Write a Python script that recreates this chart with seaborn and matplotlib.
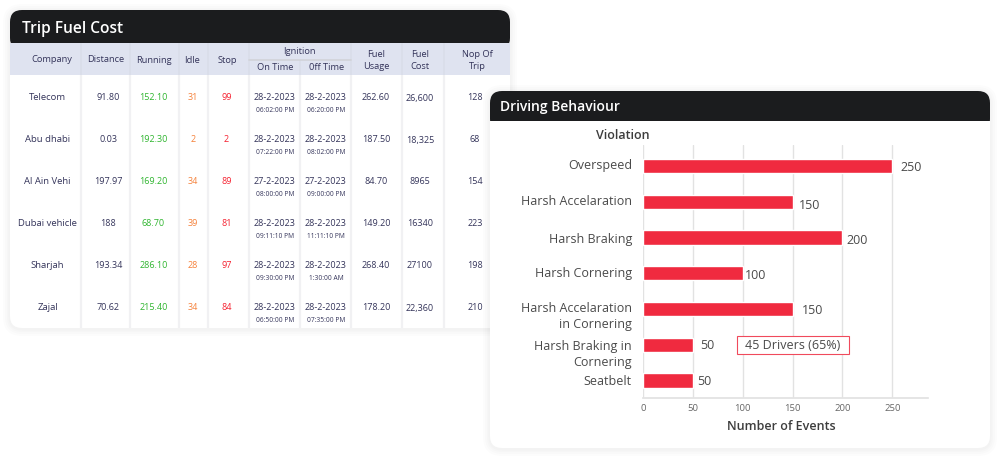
import matplotlib
matplotlib.use('Agg')
import matplotlib.pyplot as plt
import matplotlib.patches as mpatches
import matplotlib.transforms as mtrans
import seaborn as sns
import pandas as pd

# Table data
companies = ['Telecom', 'Abu dhabi', 'Al Ain Vehi', 'Dubai vehicle', 'Sharjah', 'Zajal']
distance = ['91.80', '0.03', '197.97', '188', '193.34', '70.62']
running = ['152.10', '192.30', '169.20', '68.70', '286.10', '215.40']
idle = ['31', '2', '34', '39', '28', '34']
stop = ['99', '2', '89', '81', '97', '84']
on_date = ['28-2-2023', '28-2-2023', '27-2-2023', '28-2-2023', '28-2-2023', '28-2-2023']
on_time = ['06:02:00 PM', '07:22:00 PM', '08:00:00 PM', '09:11:10 PM', '09:30:00 PM', '06:50:00 PM']
off_date = ['28-2-2023', '28-2-2023', '27-2-2023', '28-2-2023', '28-2-2023', '28-2-2023']
off_time = ['06:20:00 PM', '08:02:00 PM', '09:00:00 PM', '11:11:10 PM', '1:30:00 AM', '07:35:00 PM']
fuel_usage = ['262.60', '187.50', '84.70', '149.20', '268.40', '178.20']
fuel_cost = ['26,600', '18,325', '8965', '16340', '27100', '22,360']
trips = ['128', '68', '154', '223', '198', '210']

# Chart data
violations = ['Overspeed', 'Harsh Accelaration', 'Harsh Braking', 'Harsh Cornering',
              'Harsh Accelaration\nin Cornering', 'Harsh Braking in\nCornering', 'Seatbelt']
events = [250, 150, 200, 100, 150, 50, 50]

sns.set_theme(style='white')
plt.rcParams['font.family'] = ['Open Sans', 'DejaVu Sans']

NAVY = '#34345a'
GREEN = '#2fb52f'
ORANGE = '#f5813a'
RED = '#f5202f'
DARK = '#1b1c1e'
HEAD = '#dfe3f0'
SEP = '#f1f1f3'

fig = plt.figure(figsize=(9.99, 4.57), dpi=100, facecolor='white')

# Full page axes in pixel coordinates for the cards and the table
bg = fig.add_axes([0, 0, 1, 1])
bg.set_xlim(0, 999)
bg.set_ylim(457, 0)
bg.axis('off')


def rounded(x0, y0, x1, y1, r, **kw):
    p = mpatches.FancyBboxPatch((x0 + r, y0 + r), x1 - x0 - 2 * r, y1 - y0 - 2 * r,
                                boxstyle=f'round,pad={r},rounding_size={r}', linewidth=0, **kw)
    bg.add_patch(p)
    return p


def card(x0, y0, x1, y1, head_bottom, z):
    # soft shadow
    for grow in [7, 5, 3, 1.5]:
        rounded(x0 - grow, y0 - grow + 1, x1 + grow, y1 + grow + 1, 12 + grow,
                facecolor='black', alpha=0.012, zorder=z)
    rounded(x0, y0, x1, y1, 12, facecolor='white', zorder=z + 0.1)
    head = rounded(x0, y0, x1, y0 + 40, 12, facecolor=DARK, zorder=z + 0.2)
    clip = mpatches.Rectangle((x0, y0), x1 - x0, head_bottom - y0, transform=bg.transData)
    head.set_clip_path(clip)


# Trip Fuel Cost card
card(10, 10, 510, 328, 43, 1)
bg.add_patch(mpatches.Rectangle((10, 43), 500, 32, facecolor=HEAD, linewidth=0, zorder=1.3))
for sx in [81, 130, 179, 208, 249, 300, 351, 402, 444]:
    bg.plot([sx, sx], [75, 328], color=SEP, lw=1.6, zorder=1.4, solid_capstyle='butt')
    bg.plot([sx, sx], [60 if sx == 300 else 43, 75], color='#d9dde9', lw=1.2, zorder=1.4,
            solid_capstyle='butt')
bg.plot([249, 351], [60, 60], color='#d2d4da', lw=1.3, zorder=1.4)
bg.text(22, 29, 'Trip Fuel Cost', color='white', fontsize=11.2, fontweight='semibold',
        va='center', ha='left', zorder=2)

head_labels = [('Company', 51.7, 58.7), ('Distance', 105.7, 58.7), ('Running', 154, 60),
               ('Idle', 192, 60), ('Stop', 227, 60), ('Ignition', 299.7, 50.3),
               ('On Time', 275, 66.7), ('0ff Time', 326.7, 66.7), ('Fuel', 376, 53.7),
               ('Usage', 376, 65.7), ('Fuel', 420, 53.7), ('Cost', 420, 65.7),
               ('Nop Of', 477, 53.7), ('Trip', 477, 65.7)]
for label, tx, ty in head_labels:
    bg.text(tx, ty + 0.8, label, color=NAVY, fontsize=6.7, ha='center', va='center', zorder=2)

row_y = [98, 140, 182, 224, 266, 308]
columns = [(companies, 47.5, NAVY), (distance, 108, NAVY), (running, 153.5, GREEN), (idle, 193, ORANGE),
           (stop, 226.3, RED), (on_date, 274.3, NAVY), (off_date, 325.3, NAVY),
           (fuel_usage, 376, NAVY), (fuel_cost, 420, NAVY), (trips, 475, NAVY)]
for values, tx, color in columns:
    fs = 6.8 if values is companies else 6.5
    for val, ty in zip(values, row_y):
        bg.text(tx, ty, val, color=color, fontsize=fs, ha='center', va='center', zorder=2)
for values, tx in [(on_time, 275), (off_time, 326)]:
    for val, ty in zip(values, row_y):
        bg.text(tx, ty + 12.4, val, color=NAVY, fontsize=4.8, ha='center', va='center', zorder=2)

# Driving Behaviour card
card(490, 91, 990, 448, 121, 3)
bg.text(500, 107, 'Driving Behaviour', color='white', fontsize=10, fontweight='semibold',
        va='center', ha='left', zorder=5)

# Bar chart
ax = fig.add_axes([643 / 999, (457 - 398) / 457, (927.7 - 643) / 999, (398 - 145) / 457])
ax.patch.set_alpha(0)
df = pd.DataFrame({'Violation': violations, 'Events': events})
sns.barplot(data=df, x='Events', y='Violation', color='#f02a3f', saturation=1, width=0.4,
            orient='h', ax=ax)
ax.set_xlim(0, 285.5)
ax.set_ylim(6.49, -0.59)
ax.set_xticks([0, 50, 100, 150, 200, 250])
ax.grid(axis='x', color='#e2e2e2', lw=1)
ax.grid(axis='y', visible=False)
ax.set_axisbelow(True)
sns.despine(ax=ax, left=True)
ax.spines['bottom'].set_color('#e2e2e2')
ax.tick_params(axis='x', length=0, pad=4, labelsize=6.8, labelcolor='#666666')
ax.tick_params(axis='y', length=0, pad=8, labelsize=9, labelcolor='#4a4a4a')

# category labels do not sit exactly on the bar centres in the reference
label_shift = [2, 2, 0, 1.5, -4.5, -6.5, 0]
for lab, dy in zip(ax.get_yticklabels(), label_shift):
    lab.set_multialignment('right')
    lab.set_linespacing(1.3)
    lab.set_transform(lab.get_transform() + mtrans.ScaledTranslation(0, dy / 100, fig.dpi_scale_trans))

ax.set_xlabel('Number of Events', fontsize=9, fontweight='semibold', color='#3d3d3d')
ax.xaxis.set_label_coords((781 - 643) / 284.7, (398 - 426) / 253, transform=ax.transAxes)
ax.xaxis.label.set_va('center')
ax.set_ylabel('Violation', fontsize=9, fontweight='semibold', color='#3d3d3d', rotation=0,
              ha='center', va='center')
ax.yaxis.set_label_coords((622.7 - 643) / 284.7, (398 - 135) / 253, transform=ax.transAxes)

value_dx = [18.4, 17, 15, 13, 20, 14, 11.4]
value_dy = [-1.5, -3.5, -2.5, -2, -1.5, -0.5, -1.5]
for i, (val, dx, dy) in enumerate(zip(events, value_dx, value_dy)):
    ax.annotate(str(val), xy=(val, i), xytext=(dx, dy), textcoords='offset pixels',
                ha='center', va='center', fontsize=9, color='#4a4a4a')

# callout box next to the Harsh Braking in Cornering bar
ax.add_patch(mpatches.Rectangle((94, 4.75), 112.5, 0.5, facecolor='white', edgecolor='#f04a5c',
                                linewidth=0.8, zorder=4))
ax.text(150, 5.03, '45 Drivers (65%)', ha='center', va='center', fontsize=9, color='#4a4a4a', zorder=5)

fig.savefig('out.png', dpi=100)
